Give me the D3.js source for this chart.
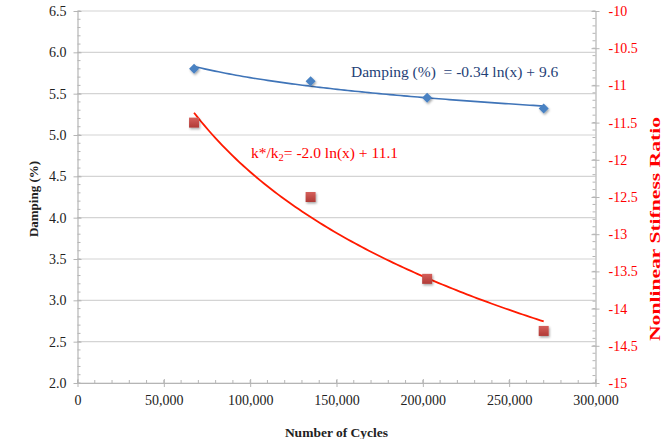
<!DOCTYPE html>
<html>
<head>
<meta charset="utf-8">
<script src="https://cdn.jsdelivr.net/npm/d3@7"></script>
<style>
  body { margin: 0; background: #fff; }
  svg { display: block; font-family: "Liberation Serif", "Times New Roman", serif; }
  .eq { white-space: pre; }
</style>
</head>
<body>
<svg id="chart" width="663" height="439"></svg>
<script>
// Test cycles and measured response
const cycles = [67500, 135000, 202500, 270000];
const damping = [5.80, 5.65, 5.45, 5.32];
const stiffnessRatio = [-11.5, -12.5, -13.6, -14.3];

// Axis ticks
const xTicks = [0, 50000, 100000, 150000, 200000, 250000, 300000];
const leftTicks = [2.0, 2.5, 3.0, 3.5, 4.0, 4.5, 5.0, 5.5, 6.0, 6.5];
const rightTicks = [-15, -14.5, -14, -13.5, -13, -12.5, -12, -11.5, -11, -10.5, -10];

const margin = { left: 77.5, right: 595.5, top: 11, bottom: 383 };
const svg = d3.select("#chart");

const x = d3.scaleLinear().domain([0, 300000]).range([margin.left, margin.right]);
const yL = d3.scaleLinear().domain([2, 6.5]).range([margin.bottom, margin.top]);
const yR = d3.scaleLinear().domain([-15, -10]).range([margin.bottom, margin.top]);

// Logarithmic least-squares trend: y = a ln(x) + b
function logFit(xs, ys) {
  const lx = xs.map(Math.log);
  const mx = d3.mean(lx), my = d3.mean(ys);
  let sxy = 0, sxx = 0;
  lx.forEach((v, i) => { sxy += (v - mx) * (ys[i] - my); sxx += (v - mx) * (v - mx); });
  const a = sxy / sxx;
  return { a, b: my - a * mx };
}

// Horizontal gridlines
svg.append("g").selectAll("line").data(leftTicks).join("line")
  .attr("x1", margin.left).attr("x2", margin.right)
  .attr("y1", d => yL(d)).attr("y2", d => yL(d))
  .attr("stroke", "#d4d4d4").attr("stroke-width", 1.2);

const axisColor = "#b5b5b5";

// Minor ticks
const minorX = d3.range(0, 300001, 10000);
svg.append("g").selectAll("line").data(minorX).join("line")
  .attr("x1", d => x(d)).attr("x2", d => x(d))
  .attr("y1", margin.bottom).attr("y2", margin.bottom - 3)
  .attr("stroke", axisColor);
const minorL = d3.range(20, 66, 1).map(d => d / 10);
svg.append("g").selectAll("line").data(minorL).join("line")
  .attr("x1", margin.left).attr("x2", margin.left + 3)
  .attr("y1", d => yL(d)).attr("y2", d => yL(d))
  .attr("stroke", axisColor);
const minorR = d3.range(-150, -99, 1).map(d => d / 10);
svg.append("g").selectAll("line").data(minorR).join("line")
  .attr("x1", margin.right - 3).attr("x2", margin.right)
  .attr("y1", d => yR(d)).attr("y2", d => yR(d))
  .attr("stroke", axisColor);

// Axes
const fmt = d3.format(",");
const xAxis = svg.append("g").attr("transform", `translate(0,${margin.bottom})`)
  .call(d3.axisBottom(x).tickValues(xTicks).tickFormat(fmt).tickSizeInner(-5).tickSizeOuter(0).tickPadding(12));
const lAxis = svg.append("g").attr("transform", `translate(${margin.left},0)`)
  .call(d3.axisLeft(yL).tickValues(leftTicks).tickFormat(d3.format(".1f")).tickSizeInner(4).tickSizeOuter(0).tickPadding(7));
const rAxis = svg.append("g").attr("transform", `translate(${margin.right},0)`)
  .call(d3.axisRight(yR).tickValues(rightTicks).tickFormat(d => String(d)).tickSizeInner(4).tickSizeOuter(0).tickPadding(9));

[xAxis, lAxis, rAxis].forEach(g => {
  g.select(".domain").attr("stroke", axisColor).attr("stroke-width", 1.2);
  g.selectAll(".tick line").attr("stroke", axisColor);
  g.selectAll("text").attr("font-family", "Liberation Serif, serif").attr("font-size", 14);
});
xAxis.selectAll(".tick line").attr("y1", 4).attr("y2", -4);
lAxis.selectAll(".tick line").attr("x1", -4).attr("x2", 4);
rAxis.selectAll(".tick line").attr("x1", -4).attr("x2", 4);
xAxis.selectAll("text").attr("fill", "#222");
lAxis.selectAll("text").attr("fill", "#222");
rAxis.selectAll("text").attr("fill", "#ff0000");

// Axis titles
svg.append("text").attr("x", (margin.left + margin.right) / 2).attr("y", 437)
  .attr("text-anchor", "middle").attr("font-weight", "bold").attr("font-size", 13.5)
  .attr("fill", "#222").text("Number of Cycles");
svg.append("text").attr("transform", `translate(38,199) rotate(-90)`)
  .attr("text-anchor", "middle").attr("font-weight", "bold").attr("font-size", 13)
  .attr("fill", "#222").text("Damping (%)");
svg.append("text").attr("transform", `translate(660,229) rotate(-90)`)
  .attr("text-anchor", "middle").attr("font-weight", "bold").attr("font-size", 14.5)
  .attr("textLength", 224).attr("lengthAdjust", "spacingAndGlyphs")
  .attr("fill", "#ff0000").text("Nonlinear Stifness Ratio");

// Trendlines
const fitD = logFit(cycles, damping);
const fitK = logFit(cycles, stiffnessRatio);
const span = d3.range(0, 101).map(i => cycles[0] + (cycles[cycles.length - 1] - cycles[0]) * i / 100);

svg.append("path").datum(span)
  .attr("d", d3.line().x(d => x(d)).y(d => yL(fitD.a * Math.log(d) + fitD.b)))
  .attr("fill", "none").attr("stroke", "#3f74b8").attr("stroke-width", 1.6);
svg.append("path").datum(span)
  .attr("d", d3.line().x(d => x(d)).y(d => yR(fitK.a * Math.log(d) + fitK.b)))
  .attr("fill", "none").attr("stroke", "#ff1a00").attr("stroke-width", 1.8);

// Markers
const defs = svg.append("defs");
const grad = defs.append("linearGradient").attr("id", "sq").attr("x1", 0).attr("y1", 0).attr("x2", 0).attr("y2", 1);
grad.append("stop").attr("offset", 0).attr("stop-color", "#d5605c");
grad.append("stop").attr("offset", 1).attr("stop-color", "#b03a36");
const shadow = defs.append("filter").attr("id", "sh").attr("x", -0.5).attr("y", -0.5).attr("width", 2).attr("height", 2);
shadow.append("feDropShadow").attr("dx", 1).attr("dy", 1.5).attr("stdDeviation", 1).attr("flood-color", "#000").attr("flood-opacity", 0.35);

svg.append("g").selectAll("path").data(cycles).join("path")
  .attr("transform", (d, i) => `translate(${x(d)},${yL(damping[i])})`)
  .attr("d", "M0,-5L5,0L0,5L-5,0Z")
  .attr("fill", "#4a82c3").attr("filter", "url(#sh)");

svg.append("g").selectAll("rect").data(cycles).join("rect")
  .attr("x", d => x(d) - 5).attr("y", (d, i) => yR(stiffnessRatio[i]) - 5)
  .attr("width", 10).attr("height", 10)
  .attr("fill", "url(#sq)").attr("filter", "url(#sh)");

// Trend equations
svg.append("text").attr("class", "eq").attr("x", 351).attr("y", 77).attr("font-size", 15.5).attr("fill", "#1f3f77")
  .text("Damping (%)  = -0.34 ln(x) + 9.6");
const kt = svg.append("text").attr("class", "eq").attr("x", 251).attr("y", 158).attr("font-size", 15.5).attr("fill", "#ff0000");
kt.append("tspan").text("k*/k");
kt.append("tspan").attr("font-size", 10.5).attr("dy", 3).text("2");
kt.append("tspan").attr("dy", -3).text("= -2.0 ln(x) + 11.1");
</script>
</body>
</html>
